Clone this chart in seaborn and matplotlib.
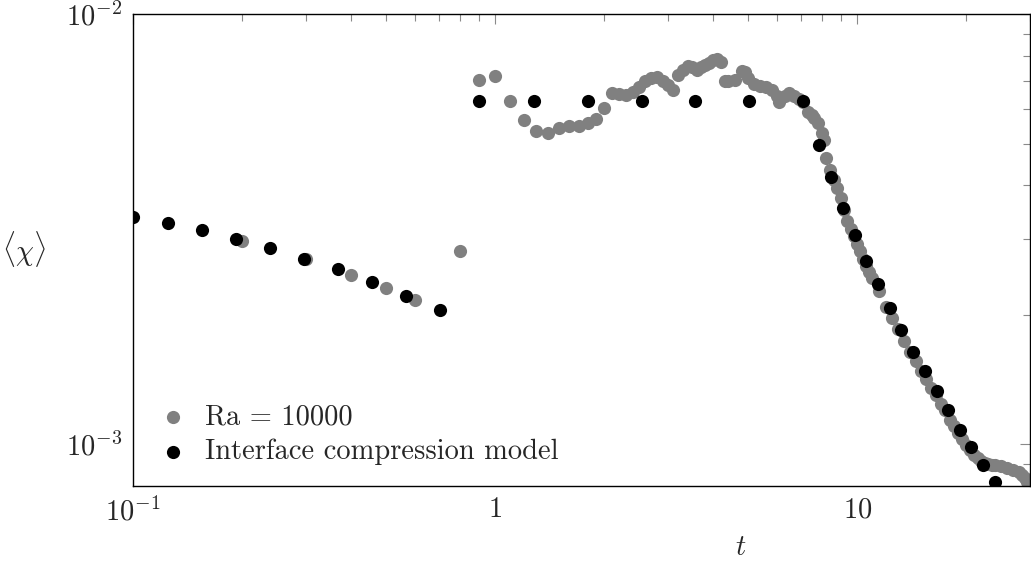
import seaborn as sns
import numpy as np
import matplotlib.pyplot as plt
import matplotlib.ticker as mticker
import pandas as pd

# Ra = 10000 simulation (gray)
t_ra = [0.2, 0.3, 0.4, 0.5, 0.6, 0.8, 0.9, 1.0, 1.1, 1.2, 1.3, 1.4, 1.5, 1.6, 1.7, 1.8, 1.9,
        2.0, 2.1, 2.2, 2.3, 2.4, 2.5, 2.6, 2.7, 2.8, 2.9, 3.0, 3.1, 3.2, 3.3, 3.4, 3.5, 3.6,
        3.7, 3.8, 3.9, 4.0, 4.1, 4.2, 4.3, 4.4, 4.6, 4.8, 4.9, 5.0, 5.2, 5.4, 5.6, 5.8, 6.0,
        6.1, 6.3, 6.5, 6.7, 6.9, 7.1, 7.3, 7.5, 7.6, 7.8, 8.0, 8.1, 8.2, 8.4, 8.6, 8.8, 9.0,
        9.2, 9.4, 9.6, 9.8, 10.0, 10.2, 10.4, 10.6, 10.8, 11.0, 11.5, 12.0, 12.5, 13.0, 13.5,
        14.0, 14.5, 15.0, 15.5, 16.0, 16.5, 17.0, 17.5, 18.0, 18.5, 19.0, 19.5, 20.0, 20.5,
        21.0, 21.5, 22.0, 22.5, 23.0, 23.5, 24.0, 25.0, 26.0, 27.0, 28.0, 28.5, 29.0, 29.5, 30.0]
chi_ra = [2.97e-3, 2.70e-3, 2.47e-3, 2.31e-3, 2.16e-3, 2.82e-3, 7.03e-3, 7.19e-3, 6.28e-3,
          5.68e-3, 5.35e-3, 5.30e-3, 5.43e-3, 5.50e-3, 5.50e-3, 5.58e-3, 5.71e-3,
          6.04e-3, 6.57e-3, 6.53e-3, 6.49e-3, 6.59e-3, 6.77e-3, 6.99e-3, 7.11e-3, 7.14e-3,
          6.99e-3, 6.85e-3, 6.66e-3, 7.22e-3, 7.41e-3, 7.57e-3, 7.53e-3, 7.41e-3,
          7.53e-3, 7.61e-3, 7.69e-3, 7.82e-3, 7.86e-3, 7.74e-3, 6.99e-3, 6.99e-3, 7.03e-3,
          7.37e-3, 7.33e-3, 7.11e-3, 6.89e-3, 6.82e-3, 6.78e-3, 6.66e-3, 6.45e-3,
          6.25e-3, 6.45e-3, 6.56e-3, 6.45e-3, 6.35e-3, 6.25e-3, 5.93e-3, 5.83e-3, 5.74e-3,
          5.59e-3, 5.30e-3, 5.10e-3, 4.63e-3, 4.35e-3, 4.12e-3, 3.95e-3, 3.74e-3,
          3.51e-3, 3.31e-3, 3.16e-3, 3.05e-3, 2.92e-3, 2.81e-3, 2.70e-3, 2.60e-3, 2.52e-3,
          2.44e-3, 2.27e-3, 2.09e-3, 1.97e-3, 1.85e-3, 1.74e-3,
          1.64e-3, 1.56e-3, 1.48e-3, 1.415e-3, 1.35e-3, 1.30e-3, 1.24e-3, 1.20e-3, 1.14e-3,
          1.10e-3, 1.06e-3, 1.03e-3, 9.95e-4, 9.69e-4,
          9.44e-4, 9.30e-4, 9.15e-4, 9.06e-4, 9.01e-4, 8.96e-4, 8.96e-4, 8.92e-4, 8.82e-4,
          8.73e-4, 8.64e-4, 8.50e-4, 8.37e-4, 8.19e-4, 8.07e-4]

# interface compression model (black)
t_icm = [0.1, 0.125, 0.155, 0.192, 0.239, 0.296, 0.368, 0.456, 0.566, 0.703,
         0.9, 1.28, 1.8, 2.54, 3.57, 5.04, 7.1,
         7.86, 8.47, 9.15, 9.87, 10.6, 11.4, 12.3, 13.2, 14.3, 15.4, 16.6, 17.8, 19.2,
         20.6, 22.3, 24.0]
chi_icm = [3.37e-3, 3.27e-3, 3.15e-3, 3.00e-3, 2.86e-3, 2.70e-3, 2.55e-3, 2.38e-3, 2.21e-3, 2.05e-3,
           6.28e-3, 6.28e-3, 6.28e-3, 6.28e-3, 6.28e-3, 6.28e-3, 6.28e-3,
           4.97e-3, 4.17e-3, 3.55e-3, 3.07e-3, 2.67e-3, 2.36e-3, 2.07e-3, 1.84e-3, 1.64e-3,
           1.48e-3, 1.33e-3, 1.20e-3, 1.08e-3, 9.84e-4, 8.94e-4, 8.16e-4]

lbl_ra = 'Ra = 10000'
lbl_icm = 'Interface compression model'

xticks = [0.1, 1, 10]
xticklabels = [r'$10^{-1}$', r'$1$', r'$10$']
yticks = [1e-3, 1e-2]
yticklabels = [r'$10^{-3}$', r'$10^{-2}$']

sns.set_theme(style='white')
plt.rcParams['font.family'] = ['cmr10', 'DejaVu Serif']
plt.rcParams['mathtext.fontset'] = 'cm'
plt.rcParams['axes.formatter.use_mathtext'] = True
fs = 20.5

fig = plt.figure(figsize=(10.31, 5.66), dpi=100)
ax = fig.add_axes([133/1031, 1-486/566, 897/1031, 472/566])

sns.scatterplot(x=t_ra, y=chi_ra, color='#808080', s=90, linewidth=0, label=lbl_ra, ax=ax)
sns.scatterplot(x=t_icm, y=chi_icm, color='black', s=90, linewidth=0, label=lbl_icm, ax=ax)

ax.set_xscale('log')
ax.set_yscale('log')
ax.set_xlim(0.1, 30)
ax.set_ylim(8e-4, 1e-2)

ax.set_xticks(xticks)
ax.set_xticklabels(xticklabels)
ax.set_yticks(yticks)
ax.set_yticklabels(yticklabels)
ax.xaxis.set_minor_locator(mticker.LogLocator(base=10, subs=np.arange(2, 10)))
ax.yaxis.set_minor_locator(mticker.LogLocator(base=10, subs=np.arange(2, 10)))
ax.xaxis.set_minor_formatter(mticker.NullFormatter())
ax.yaxis.set_minor_formatter(mticker.NullFormatter())

ax.tick_params(which='both', direction='in', top=True, right=True, color='#8a8a8a', width=0.8,
               labelsize=fs, pad=8)
ax.tick_params(which='major', length=7.2)
ax.tick_params(which='minor', length=5)
for sp in ax.spines.values():
    sp.set_color('black')
    sp.set_linewidth(1.0)

ax.set_xlabel(r'$t$', fontsize=fs)
ax.set_ylabel(r'$\langle\chi\rangle$', fontsize=fs, rotation=0)
ax.xaxis.set_label_coords(0.678, -0.103)
ax.yaxis.set_label_coords(-0.122, 0.46)

ax.legend(loc='lower left', bbox_to_anchor=(0.029, 0.044), frameon=False, fontsize=fs,
          borderpad=0, handlelength=1.0, handletextpad=0.6, labelspacing=0.28, borderaxespad=0)

fig.savefig('out.png', dpi=100)
